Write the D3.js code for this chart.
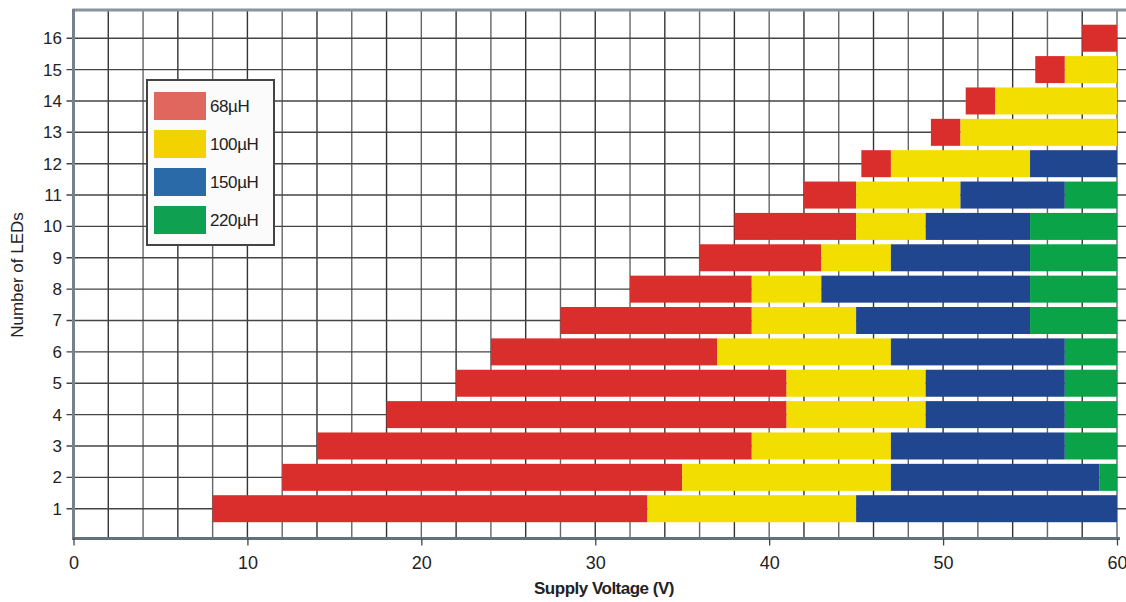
<!DOCTYPE html>
<html>
<head>
<meta charset="utf-8">
<script src="https://cdn.jsdelivr.net/npm/d3@7"></script>
<style>
  body { margin: 0; background: #fff; }
  text { font-family: "Liberation Sans", Arial, sans-serif; fill: #222; }
</style>
</head>
<body>
<div id="chart"></div>
<script>
// data: voltage ranges per LED count, in order 68uH, 100uH, 150uH, 220uH
var leds = [1, 2, 3, 4, 5, 6, 7, 8, 9, 10, 11, 12, 13, 14, 15, 16];
var start68  = [8, 12, 14, 18, 22, 24, 28, 32, 36, 38, 42, 45.3, 49.3, 51.3, 55.3, 58];
var end68    = [33, 35, 39, 41, 41, 37, 39, 39, 43, 45, 45, 47, 51, 53, 57, 60];
var end100   = [45, 47, 47, 49, 49, 47, 45, 43, 47, 49, 51, 55, 60, 60, 60, 60];
var end150   = [60, 59, 57, 57, 57, 57, 55, 55, 55, 55, 57, 60, 60, 60, 60, 60];
var end220   = [60, 60, 60, 60, 60, 60, 60, 60, 60, 60, 60, 60, 60, 60, 60, 60];
var seriesNames = ["68µH", "100µH", "150µH", "220µH"];
var barColors = ["#d92e2b", "#f2de00", "#1f468e", "#0aa347"];
var legendColors = ["#e0675e", "#f2d200", "#2a6aa8", "#10a052"];
var xTicks = [0, 10, 20, 30, 40, 50, 60];

var W = 1126, H = 602;
var svg = d3.select("#chart").append("svg")
    .attr("width", W)
    .attr("height", H);

var x = d3.scaleLinear().domain([0, 60]).range([73.5, 1117]);
var y = d3.scaleLinear().domain([0.05, 16.9]).range([538.5, 10]);
var barH = 27;

// grid
var grid = svg.append("g");
grid.selectAll("line.v")
    .data(d3.range(2, 61, 2))
    .enter().append("line")
    .attr("x1", d => x(d)).attr("x2", d => x(d))
    .attr("y1", y(16.9)).attr("y2", y(0.05))
    .attr("stroke", (d, i) => i % 2 == 0 ? "#333" : "#666")
    .attr("stroke-width", 1.4);
grid.selectAll("line.h")
    .data(leds)
    .enter().append("line")
    .attr("x1", x(0) - 7).attr("x2", W)
    .attr("y1", d => y(d)).attr("y2", d => y(d))
    .attr("stroke", "#444")
    .attr("stroke-width", 1.4);

// bars, one stacked segment per inductor
var segs = [];
leds.forEach(function(n, i) {
    var bounds = [start68[i], end68[i], end100[i], end150[i], end220[i]];
    for (var k = 0; k < 4; k++) {
        if (bounds[k + 1] > bounds[k]) {
            segs.push({ n: n, x0: bounds[k], x1: bounds[k + 1], k: k });
        }
    }
});
svg.append("g").selectAll("rect")
    .data(segs)
    .enter().append("rect")
    .attr("x", d => x(d.x0))
    .attr("width", d => x(d.x1) - x(d.x0))
    .attr("y", d => y(d.n) - barH / 2)
    .attr("height", barH)
    .attr("fill", d => barColors[d.k]);

// frame lines
svg.append("line")
    .attr("x1", x(0) - 1).attr("x2", W)
    .attr("y1", 10).attr("y2", 10)
    .attr("stroke", "#8a949c").attr("stroke-width", 3);
svg.append("line")
    .attr("x1", x(0)).attr("x2", x(0))
    .attr("y1", 9).attr("y2", 540)
    .attr("stroke", "#76818b").attr("stroke-width", 3);
svg.append("line")
    .attr("x1", x(0) - 1).attr("x2", x(60) + 3)
    .attr("y1", 538.5).attr("y2", 538.5)
    .attr("stroke", "#65707a").attr("stroke-width", 3);

// x axis
var xAxis = svg.append("g")
    .attr("transform", "translate(0,538.5)")
    .call(d3.axisBottom(x).tickValues(xTicks).tickSize(7).tickPadding(10.5));
xAxis.select(".domain").remove();
xAxis.selectAll("line").attr("stroke", "#444").attr("stroke-width", 1.3);
xAxis.selectAll("text").style("font-size", "18px").attr("fill", "#222");

// y axis labels
svg.append("g").selectAll("text")
    .data(leds)
    .enter().append("text")
    .attr("x", 62)
    .attr("y", d => y(d))
    .attr("dy", "0.35em")
    .attr("text-anchor", "end")
    .style("font-size", "17px")
    .text(d => d);

// axis titles
svg.append("text")
    .attr("x", 604).attr("y", 594)
    .attr("text-anchor", "middle")
    .style("font-size", "17px")
    .style("font-weight", "bold")
    .style("letter-spacing", "-0.5px")
    .text("Supply Voltage (V)");
svg.append("text")
    .attr("transform", "translate(23,275) rotate(-90)")
    .attr("text-anchor", "middle")
    .style("font-size", "17px")
    .text("Number of LEDs");

// legend
var legend = svg.append("g");
legend.append("rect")
    .attr("x", 147).attr("y", 80)
    .attr("width", 127).attr("height", 165)
    .attr("fill", "#fbfbfb")
    .attr("stroke", "#444").attr("stroke-width", 2);
var items = legend.selectAll("g.item")
    .data(seriesNames)
    .enter().append("g")
    .attr("transform", (d, i) => "translate(154," + (92 + i * 38) + ")");
items.append("rect")
    .attr("width", 52).attr("height", 28)
    .attr("fill", (d, i) => legendColors[i]);
items.append("text")
    .attr("x", 56).attr("y", 14)
    .attr("dy", "0.35em")
    .style("font-size", "17px")
    .style("letter-spacing", "-0.4px")
    .attr("fill", "#333")
    .text(d => d);
</script>
</body>
</html>
